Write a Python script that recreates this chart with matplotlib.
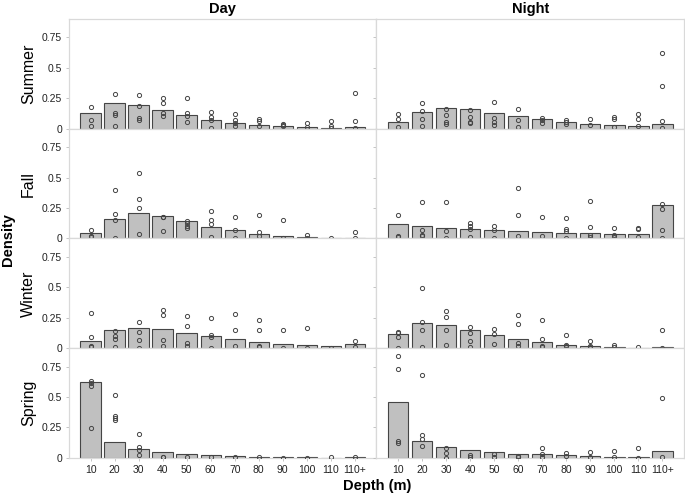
import numpy as np
import matplotlib
matplotlib.use("Agg")
import matplotlib.pyplot as plt

plt.rcParams['font.family'] = ['Liberation Sans', 'DejaVu Sans']

depths = ["10", "20", "30", "40", "50", "60", "70", "80", "90", "100", "110", "110+"]
seasons = ["Summer", "Fall", "Winter", "Spring"]
periods = ["Day", "Night"]

# mean density per depth bin (bars)
bar_summer_day = [0.13, 0.21, 0.195, 0.154, 0.11, 0.074, 0.05, 0.03, 0.022, 0.014, 0.008, 0.014]
bar_summer_night = [0.055, 0.137, 0.17, 0.162, 0.132, 0.104, 0.08, 0.058, 0.041, 0.027, 0.019, 0.036]
bar_fall_day = [0.044, 0.16, 0.205, 0.183, 0.144, 0.097, 0.067, 0.039, 0.022, 0.014, 0.008, 0.008]
bar_fall_night = [0.122, 0.103, 0.089, 0.075, 0.067, 0.061, 0.056, 0.047, 0.042, 0.036, 0.033, 0.272]
bar_winter_day = [0.06, 0.15, 0.17, 0.157, 0.129, 0.099, 0.074, 0.055, 0.038, 0.027, 0.019, 0.036]
bar_winter_night = [0.118, 0.203, 0.187, 0.151, 0.107, 0.074, 0.052, 0.03, 0.019, 0.011, 0.005, 0.011]
bar_spring_day = [0.62, 0.135, 0.077, 0.047, 0.033, 0.022, 0.016, 0.011, 0.008, 0.005, 0.003, 0.011]
bar_spring_night = [0.46, 0.143, 0.09, 0.063, 0.047, 0.036, 0.03, 0.022, 0.016, 0.011, 0.008, 0.06]

# individual observations per depth bin (points)
pts_summer_day = [[0.18, 0.074, 0.02], [0.285, 0.13, 0.11, 0.025], [0.275, 0.19, 0.088, 0.07],
                  [0.25, 0.215, 0.13, 0.105], [0.25, 0.13, 0.105, 0.052], [0.135, 0.093, 0.074, 0.01],
                  [0.118, 0.069, 0.044, 0.02], [0.082, 0.066, 0.02], [0.035, 0.027, 0.02],
                  [0.05, 0.014], [0.066, 0.02, 0.01], [0.29, 0.066, 0.008]]
pts_summer_night = [[0.12, 0.08, 0.016], [0.21, 0.146, 0.082, 0.025], [0.16, 0.113, 0.058, 0.038],
                    [0.15, 0.1, 0.058, 0.047], [0.22, 0.09, 0.058, 0.027], [0.165, 0.069, 0.016],
                    [0.088, 0.069, 0.05], [0.069, 0.052, 0.038], [0.08, 0.033],
                    [0.096, 0.077, 0.016], [0.124, 0.077, 0.022], [0.62, 0.354, 0.066, 0.008]]
pts_fall_day = [[0.07, 0.02, 0.01], [0.397, 0.2, 0.155, 0.003], [0.54, 0.32, 0.253, 0.036],
                [0.18, 0.175, 0.058], [0.144, 0.125, 0.103, 0.086], [0.228, 0.15, 0.122, 0.011],
                [0.175, 0.067, 0.005], [0.194, 0.053, 0.019], [0.153, 0.008],
                [0.025, 0.008], [0.003], [0.05, 0.003]]
pts_fall_night = [[0.194, 0.019, 0.011], [0.297, 0.072, 0.028, 0.017], [0.297, 0.061, 0.008],
                  [0.128, 0.106, 0.075, 0.011], [0.106, 0.072, 0.005], [0.417, 0.189, 0.019],
                  [0.178, 0.019], [0.164, 0.078, 0.064, 0.008], [0.31, 0.092, 0.028, 0.014],
                  [0.086, 0.028, 0.014], [0.083, 0.075, 0.011], [0.283, 0.239, 0.072, 0.005]]
pts_winter_day = [[0.29, 0.093, 0.022, 0.011], [0.143, 0.102, 0.077, 0.008], [0.212, 0.135, 0.071, 0.005],
                  [0.316, 0.272, 0.069, 0.022], [0.266, 0.181, 0.041, 0.022], [0.25, 0.107, 0.091, 0.003],
                  [0.277, 0.151, 0.022], [0.231, 0.151, 0.016, 0.011], [0.151, 0.005],
                  [0.162, 0.005], [0.005], [0.06, 0.008]]
pts_winter_night = [[0.132, 0.121, 0.096, 0.005], [0.495, 0.217, 0.146, 0.008], [0.308, 0.253, 0.146, 0.027],
                    [0.176, 0.124, 0.058, 0.014], [0.157, 0.113, 0.036], [0.272, 0.195, 0.047, 0.016],
                    [0.231, 0.074, 0.022, 0.011], [0.107, 0.03, 0.022], [0.058, 0.019, 0.011],
                    [0.03, 0.011], [0.011], [0.148, 0.005]]
pts_spring_day = [[0.635, 0.613, 0.593, 0.245], [0.52, 0.346, 0.33, 0.313], [0.2, 0.093, 0.063, 0.025],
                  [0.011, 0.005], [0.005], [0.011], [0.008], [0.008], [0.003],
                  [0.003], [0.005], [0.005]]
pts_spring_night = [[0.84, 0.73, 0.137, 0.126], [0.68, 0.187, 0.157, 0.096], [0.082, 0.044, 0.003],
                    [0.022, 0.011], [0.036, 0.008], [0.014, 0.008], [0.08, 0.036, 0.005],
                    [0.041, 0.016], [0.047, 0.008], [0.055, 0.005], [0.085, 0.003], [0.49, 0.005]]

bars = {
    ("Summer", "Day"): bar_summer_day, ("Summer", "Night"): bar_summer_night,
    ("Fall", "Day"): bar_fall_day, ("Fall", "Night"): bar_fall_night,
    ("Winter", "Day"): bar_winter_day, ("Winter", "Night"): bar_winter_night,
    ("Spring", "Day"): bar_spring_day, ("Spring", "Night"): bar_spring_night,
}
points = {
    ("Summer", "Day"): pts_summer_day, ("Summer", "Night"): pts_summer_night,
    ("Fall", "Day"): pts_fall_day, ("Fall", "Night"): pts_fall_night,
    ("Winter", "Day"): pts_winter_day, ("Winter", "Night"): pts_winter_night,
    ("Spring", "Day"): pts_spring_day, ("Spring", "Night"): pts_spring_night,
}

fig, axes = plt.subplots(4, 2, figsize=(6.85, 4.97), dpi=100, sharex=True, sharey=True)
fig.subplots_adjust(left=0.1007, right=0.9985, top=0.9618, bottom=0.0785, wspace=0, hspace=0)

x = np.arange(len(depths))
for i, season in enumerate(seasons):
    for j, period in enumerate(periods):
        ax = axes[i, j]
        ax.bar(x, bars[(season, period)], width=0.85, color="#C0C0C0",
               edgecolor="#454545", linewidth=0.8, zorder=2)
        for k, vals in enumerate(points[(season, period)]):
            ax.plot([x[k]] * len(vals), vals, linestyle="none", marker="o", markersize=3,
                    markerfacecolor="none", markeredgecolor="#444444",
                    markeredgewidth=0.7, zorder=3)
        ax.set_xlim(-0.9, len(depths) - 0.1)
        ax.set_ylim(0, 0.9)
        for s in ax.spines.values():
            s.set_color("#D9D9D9")
            s.set_linewidth(0.9)
        ax.tick_params(length=2.5, width=0.6, color="#BBBBBB", labelsize=7.5,
                       labelcolor="#222222", pad=2.5)
        ax.set_yticks([0, 0.25, 0.5, 0.75])
        ax.set_yticklabels(["0", "0.25", "0.5", "0.75"])
        ax.set_xticks(x)
        ax.set_xticklabels(depths)
        if i == 0:
            ax.set_title(period, fontsize=10.5, fontweight="bold", pad=4)
        if j == 0:
            ax.set_ylabel(season, fontsize=11.5, labelpad=4)

fig.text(0.011, 0.517, "Density", rotation=90, ha="center", va="center",
         fontsize=10.5, fontweight="bold")
fig.text(0.55, 0.022, "Depth (m)", ha="center", va="center",
         fontsize=10.5, fontweight="bold")

fig.savefig("out.png", dpi=100)
